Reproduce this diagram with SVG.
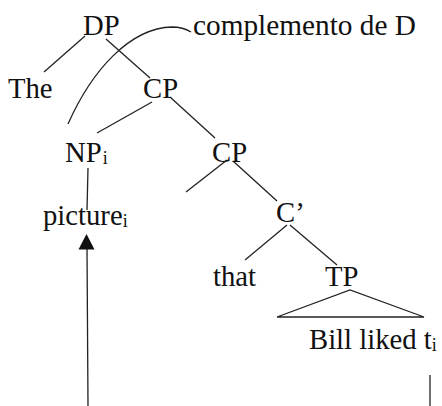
<svg xmlns="http://www.w3.org/2000/svg" width="442" height="406" viewBox="0 0 442 406">
  <style>
    text { font-family: "Liberation Serif", "Times New Roman", serif; font-size: 28.7px; fill: #111; }
    .sub { font-size: 18px; }
    .wide { font-size: 29.3px; }
    .edge { stroke: #222; stroke-width: 1.3; fill: none; }
    .head { fill: #111; stroke: none; }
  </style>
  <rect width="442" height="406" fill="#fff"/>

  <g id="connectors">
    <line class="edge" x1="85" y1="36" x2="44" y2="72"/>
    <line class="edge" x1="106" y1="39" x2="150" y2="78"/>
    <line class="edge" x1="152" y1="102" x2="97" y2="133"/>
    <line class="edge" x1="170" y1="97" x2="215" y2="138"/>
    <line class="edge" x1="88" y1="168" x2="87" y2="210"/>
    <line class="edge" x1="227" y1="160" x2="186" y2="192"/>
    <line class="edge" x1="233" y1="161" x2="277" y2="201"/>
    <line class="edge" x1="287" y1="225" x2="245" y2="260"/>
    <line class="edge" x1="290" y1="225" x2="337" y2="265"/>
    <path class="edge" d="M277,317 L350,290 L424,317 Z"/>
    <path class="edge" d="M68,124 C92,70 130,28 172,27 C180,27 186,29 191,32"/>
    <line class="edge" x1="88" y1="406" x2="87" y2="248"/>
    <polygon class="head" points="86.5,234 78.5,249.5 94.5,249.5"/>
    <line class="edge" x1="430" y1="375" x2="430" y2="406"/>
  </g>

  <g id="node-dp"><text x="83" y="35">DP</text></g>
  <g id="node-complemento"><text class="wide" x="193" y="35">complemento de D</text></g>
  <g id="node-the"><text x="8" y="98">The</text></g>
  <g id="node-cp1"><text x="143" y="98">CP</text></g>
  <g id="node-np"><text x="65" y="162">NP<tspan class="sub" dx="1" dy="2">i</tspan></text></g>
  <g id="node-cp2"><text x="212" y="162">CP</text></g>
  <g id="node-picture"><text x="43" y="225">picture<tspan class="sub" dy="2">i</tspan></text></g>
  <g id="node-cbar"><text x="276" y="222">C’</text></g>
  <g id="node-that"><text x="213" y="286">that</text></g>
  <g id="node-tp"><text x="325" y="286">TP</text></g>
  <g id="node-bill"><text x="309" y="349">Bill liked t<tspan class="sub" dy="2">i</tspan></text></g>
</svg>
